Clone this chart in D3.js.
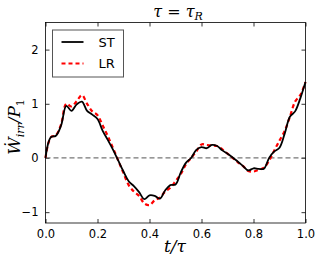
<!DOCTYPE html>
<html>
<head>
<meta charset="utf-8">
<script src="https://cdn.jsdelivr.net/npm/d3@7"></script>
<style>
body { margin: 0; background: #fff; }
svg text { font-family: "DejaVu Sans", sans-serif; }
.math { font-family: "DejaVu Serif", serif; font-style: italic; }
</style>
</head>
<body>
<div id="chart-area"></div>
<script>
var tValues = [0.00, 0.02, 0.04, 0.06, 0.08, 0.10, 0.12, 0.14, 0.16, 0.18,
               0.20, 0.22, 0.24, 0.26, 0.28, 0.30, 0.32, 0.34, 0.36, 0.38,
               0.40, 0.42, 0.44, 0.46, 0.48, 0.50, 0.52, 0.54, 0.56, 0.58,
               0.60, 0.62, 0.64, 0.66, 0.68, 0.70, 0.72, 0.74, 0.76, 0.78,
               0.80, 0.82, 0.84, 0.86, 0.88, 0.90, 0.92, 0.94, 0.96, 0.98, 1.00];

var stValues = [0.00, 0.38, 0.41, 0.60, 0.96, 0.87, 0.99, 1.04, 0.87, 0.80,
                0.72, 0.50, 0.33, 0.15, -0.05, -0.25, -0.43, -0.52, -0.63, -0.76,
                -0.69, -0.70, -0.75, -0.60, -0.50, -0.49, -0.27, -0.09, 0.00, 0.15,
                0.20, 0.18, 0.24, 0.22, 0.14, 0.08, 0.01, -0.07, -0.15, -0.23,
                -0.19, -0.20, -0.20, 0.00, 0.12, 0.19, 0.45, 0.76, 0.86, 1.10, 1.40];

var lrValues = [0.00, 0.38, 0.42, 0.62, 1.00, 0.95, 1.05, 1.16, 1.00, 0.86,
                0.79, 0.60, 0.40, 0.18, -0.05, -0.28, -0.50, -0.62, -0.70, -0.84,
                -0.87, -0.78, -0.73, -0.62, -0.55, -0.43, -0.30, -0.12, 0.00, 0.12,
                0.25, 0.24, 0.23, 0.22, 0.16, 0.08, 0.00, -0.08, -0.15, -0.24,
                -0.25, -0.22, -0.18, -0.05, 0.14, 0.32, 0.50, 0.76, 1.04, 1.16, 1.40];

var xTicks = [0, 0.2, 0.4, 0.6, 0.8, 1.0];
var yTicks = [-1, 0, 1, 2];

var margin = { top: 22.5, bottom: 39, left: 45.5, right: 12.5 };
var width  = 318 - margin.left - margin.right;
var height = 262 - margin.top  - margin.bottom;

var svg = d3.select("#chart-area")
    .append("svg")
        .attr("width", 318)
        .attr("height", 262);

var g = svg.append("g")
    .attr("transform", "translate(" + margin.left + ", " + margin.top + ")");

var x = d3.scaleLinear().domain([0, 1]).range([0, width]);
var y = d3.scaleLinear().domain([-1.2, 2.5]).range([height, 0]);

// axes, ticks pointing inward on all four sides
var xAxisCall = d3.axisBottom(x).tickValues(xTicks).tickSize(-4).tickPadding(7)
    .tickFormat(d3.format(".1f"));
var yAxisCall = d3.axisLeft(y).tickValues(yTicks).tickSize(-4).tickPadding(7)
    .tickFormat(function(d) { return d < 0 ? "\u2212" + Math.abs(d) : d; });

g.append("g")
    .attr("transform", "translate(0, " + height + ")")
    .call(xAxisCall);
g.append("g")
    .call(yAxisCall);
g.append("g")
    .call(d3.axisTop(x).tickValues(xTicks).tickSize(-4).tickFormat(""));
g.append("g")
    .attr("transform", "translate(" + width + ", 0)")
    .call(d3.axisRight(y).tickValues(yTicks).tickSize(-4).tickFormat(""));

g.selectAll(".domain").remove();
g.selectAll(".tick line").attr("stroke", "#000").attr("stroke-width", 0.8);
g.selectAll(".tick text").attr("font-size", "11.5px").attr("fill", "#000")
    .attr("font-family", "DejaVu Sans, sans-serif");

// zero line
g.append("line")
    .attr("x1", 0).attr("x2", width)
    .attr("y1", y(0)).attr("y2", y(0))
    .attr("stroke", "#777")
    .attr("stroke-width", 1.2)
    .attr("stroke-dasharray", "5,3");

var line = d3.line()
    .x(function(d, i) { return x(tValues[i]); })
    .y(function(d) { return y(d); })
    .curve(d3.curveCatmullRom);

g.append("path")
    .datum(lrValues)
    .attr("fill", "none")
    .attr("stroke", "red")
    .attr("stroke-width", 2.2)
    .attr("stroke-dasharray", "4,3")
    .attr("d", line);

g.append("path")
    .datum(stValues)
    .attr("fill", "none")
    .attr("stroke", "#000")
    .attr("stroke-width", 1.8)
    .attr("d", line);

// frame
g.append("rect")
    .attr("width", width).attr("height", height)
    .attr("fill", "none")
    .attr("stroke", "#000")
    .attr("stroke-width", 0.8);

// legend
var legend = g.append("g").attr("transform", "translate(7, 7.5)");
legend.append("rect")
    .attr("width", 71).attr("height", 47)
    .attr("fill", "#fff")
    .attr("stroke", "#555")
    .attr("stroke-width", 1);
legend.append("line")
    .attr("x1", 9).attr("x2", 31).attr("y1", 12).attr("y2", 12)
    .attr("stroke", "#000").attr("stroke-width", 1.8);
legend.append("line")
    .attr("x1", 9).attr("x2", 31).attr("y1", 33.5).attr("y2", 33.5)
    .attr("stroke", "red").attr("stroke-width", 2.2).attr("stroke-dasharray", "4,3");
legend.append("text")
    .attr("x", 46).attr("y", 16.5)
    .attr("font-size", "13px")
    .text("ST");
legend.append("text")
    .attr("x", 46).attr("y", 38)
    .attr("font-size", "13px")
    .text("LR");

// title and labels
var title = svg.append("text")
    .attr("class", "math")
    .attr("x", 178).attr("y", 17)
    .attr("text-anchor", "middle")
    .attr("font-size", "16px");
title.append("tspan").text("\u03c4 = \u03c4");
title.append("tspan").attr("dy", 3).attr("font-size", "11px").text("R");

svg.append("text")
    .attr("class", "math")
    .attr("x", 175).attr("y", 252)
    .attr("text-anchor", "middle")
    .attr("font-size", "17px")
    .text("t/\u03c4");

var ylab = svg.append("text")
    .attr("class", "math")
    .attr("transform", "translate(20, 127) rotate(-90)")
    .attr("text-anchor", "middle")
    .attr("font-size", "17px");
ylab.append("tspan").text("W\u0307");
ylab.append("tspan").attr("dy", 4).attr("font-size", "11px").text("irr");
ylab.append("tspan").attr("dy", -4).text("/P");
ylab.append("tspan").attr("dy", 4).attr("font-size", "11px").attr("font-style", "normal").text("1");
</script>
</body>
</html>
